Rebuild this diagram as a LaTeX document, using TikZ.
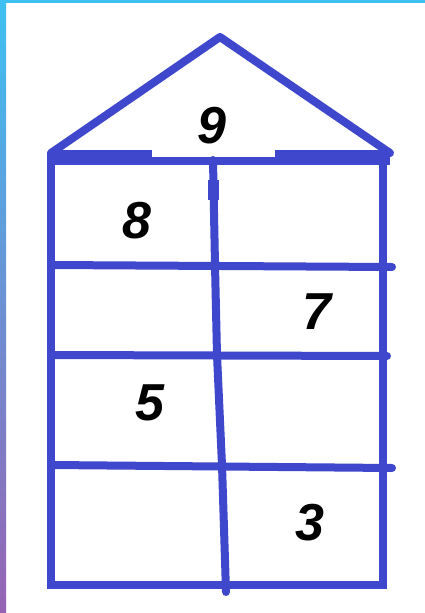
\documentclass[tikz,border=0pt]{standalone}
\usepackage{fontspec}
\setmainfont{Liberation Sans}
\usetikzlibrary{positioning}
\definecolor{paintblue}{RGB}{63,72,204}
\definecolor{frametop}{RGB}{62,192,242}
\definecolor{framebot}{RGB}{152,98,180}
\tikzset{wall/.style={draw=paintblue,line width=8pt}, digit/.style={font=\fontsize{52}{52}\selectfont\bfseries\itshape,inner sep=0pt}}

\begin{document}
\begin{tikzpicture}[x=1pt,y=-1pt]
\useasboundingbox (0,0) rectangle (425,613);
\fill[white] (0,0) rectangle (425,613);
\shade[top color=frametop,bottom color=framebot] (0,0) rectangle (6,613); \fill[frametop] (0,0) rectangle (425,3);
\coordinate (apex) at (220,37); \coordinate (eaveL) at (51,153); \coordinate (eaveR) at (390,153);
\coordinate (botL) at (51,585); \coordinate (botR) at (383,585); \coordinate (topR) at (383,155);
\draw[wall,line join=round,line cap=round] (eaveL) -- (apex) -- (eaveR);
\draw[wall] (eaveL) -- (botL) -- (botR) -- (topR);
\draw[paintblue,line width=15pt] (50,157) -- (152,157); \draw[paintblue,line width=15pt] (275,157) -- (390,157);
\draw[wall] (152,161) -- (275,161);
\coordinate (m0) at (213,160); \coordinate (m1) at (215,265); \coordinate (m2) at (217,355); \coordinate (m3) at (222,465); \coordinate (m4) at (226,592);
\draw[wall,line cap=round] (m0) -- (m1) -- (m2) -- (m3) -- (m4);
\draw[paintblue,line width=11pt] (213,180) -- (213,200);
\draw[wall,line cap=round] (botL |- m1) -- (392,267); \draw[wall,line cap=round] (botL |- m2) -- (387,356); \draw[wall,line cap=round] (botL |- m3) -- (392,468);
\node[digit] (n9) at (212,126) {9}; \node[digit] (n8) at (137,221) {8}; \node[digit] (n7) at (317,312) {7};
\node[digit] (n5) at (150,403) {5}; \node[digit] (n3) at (310,523) {3};
\end{tikzpicture}
\end{document}
